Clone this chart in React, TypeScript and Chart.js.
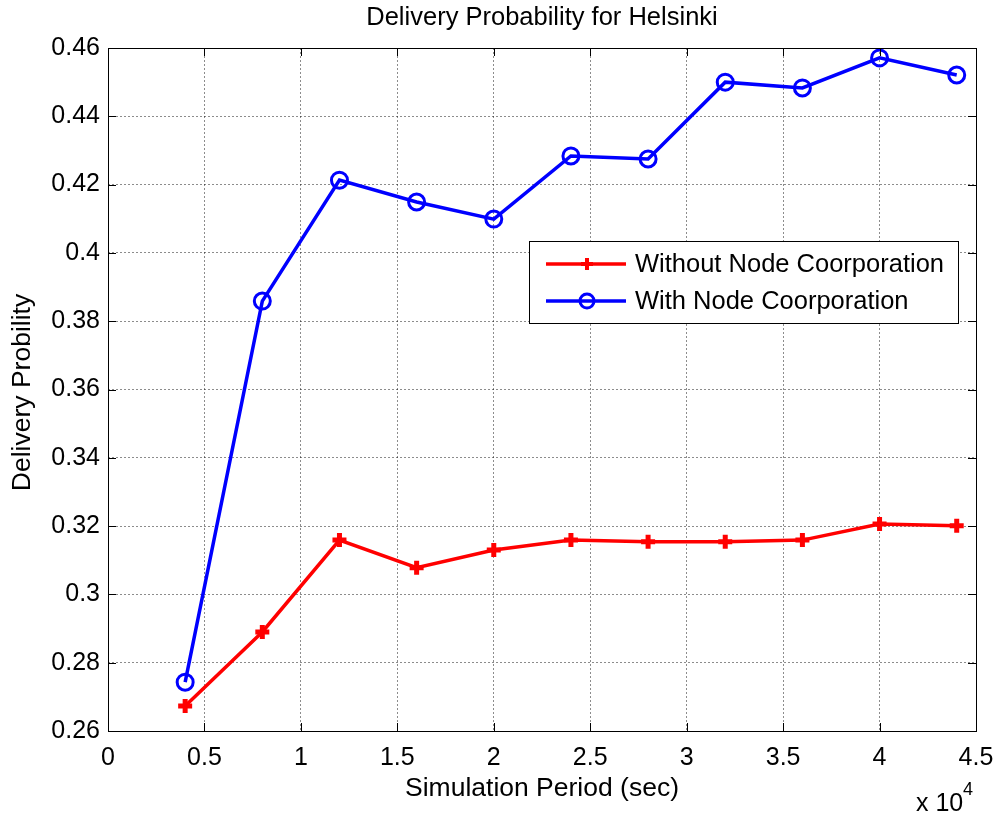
import React, { useEffect, useRef } from "react";
import { Chart, registerables } from "chart.js";

Chart.register(...registerables);

// Simulation period, in units of 10^4 seconds
const periods = [0.4, 0.8, 1.2, 1.6, 2.0, 2.4, 2.8, 3.2, 3.6, 4.0, 4.4];

const withoutCooperation = [0.2673, 0.289, 0.3159, 0.3078, 0.313, 0.3159, 0.3154, 0.3154, 0.3159, 0.3206, 0.3201];
const withCooperation = [0.2743, 0.3859, 0.4213, 0.4149, 0.4099, 0.4284, 0.4275, 0.45, 0.4483, 0.4571, 0.4521];

const xTicks = [0, 0.5, 1, 1.5, 2, 2.5, 3, 3.5, 4, 4.5];
const xTickLabels = ["0", "0.5", "1", "1.5", "2", "2.5", "3", "3.5", "4", "4.5"];
const yTicks = [0.26, 0.28, 0.3, 0.32, 0.34, 0.36, 0.38, 0.4, 0.42, 0.44, 0.46];
const yTickLabels = ["0.26", "0.28", "0.3", "0.32", "0.34", "0.36", "0.38", "0.4", "0.42", "0.44", "0.46"];

const seriesNames = ["Without Node Coorporation", "With Node Coorporation"];
const titleText = "Delivery Probability for Helsinki";
const xTitle = "Simulation Period (sec)";
const yTitle = "Delivery Probility";

const FONT = "'Liberation Sans', Arial, sans-serif";
const RED = "#ff0000";
const BLUE = "#0000ff";

function drawPlus(ctx: CanvasRenderingContext2D, x: number, y: number, r: number, color: string) {
  ctx.save();
  ctx.strokeStyle = color;
  ctx.lineWidth = 4;
  ctx.beginPath();
  ctx.moveTo(x - r, y);
  ctx.lineTo(x + r, y);
  ctx.moveTo(x, y - r);
  ctx.lineTo(x, y + r);
  ctx.stroke();
  ctx.restore();
}

function drawCircle(ctx: CanvasRenderingContext2D, x: number, y: number, r: number, color: string) {
  ctx.save();
  ctx.strokeStyle = color;
  ctx.lineWidth = 3;
  ctx.beginPath();
  ctx.arc(x, y, r, 0, Math.PI * 2);
  ctx.stroke();
  ctx.restore();
}

// Box, inward tick marks, legend and annotation text in a MATLAB-like style
const frame = {
  id: "matlabFrame",
  afterDraw(chart: any) {
    const { ctx, chartArea } = chart;
    const { left, right, top, bottom } = chartArea;
    const xs = chart.scales.x;
    const ys = chart.scales.y;
    ctx.save();

    // Axes box
    ctx.strokeStyle = "#000";
    ctx.lineWidth = 1;
    ctx.strokeRect(left + 0.5, top + 0.5, right - left, bottom - top);

    // Inward ticks on all four sides
    const tl = 8;
    ctx.beginPath();
    for (const v of xTicks) {
      const px = Math.round(xs.getPixelForValue(v)) + 0.5;
      ctx.moveTo(px, bottom);
      ctx.lineTo(px, bottom - tl);
      ctx.moveTo(px, top);
      ctx.lineTo(px, top + tl);
    }
    for (const v of yTicks) {
      const py = Math.round(ys.getPixelForValue(v)) + 0.5;
      ctx.moveTo(left, py);
      ctx.lineTo(left + tl, py);
      ctx.moveTo(right, py);
      ctx.lineTo(right - tl, py);
    }
    ctx.stroke();

    // Title
    ctx.fillStyle = "#000";
    ctx.font = `25.5px ${FONT}`;
    ctx.textAlign = "center";
    ctx.textBaseline = "middle";
    ctx.fillText(titleText, (left + right) / 2, 18);

    // Axis titles
    ctx.font = `26.5px ${FONT}`;
    ctx.fillText(xTitle, (left + right) / 2, 789);
    ctx.save();
    ctx.translate(23, (top + bottom) / 2 + 3);
    ctx.rotate(-Math.PI / 2);
    ctx.fillText(yTitle, 0, 0);
    ctx.restore();

    // Exponent marker for the x axis
    ctx.textAlign = "left";
    ctx.textBaseline = "alphabetic";
    ctx.font = `25px ${FONT}`;
    ctx.fillText("x 10", 916, 811);
    ctx.font = `18px ${FONT}`;
    ctx.fillText("4", 963, 795);

    // Legend
    const lx = 529, ly = 241, lw = 429, lh = 82;
    ctx.fillStyle = "#fff";
    ctx.fillRect(lx, ly, lw, lh);
    ctx.strokeStyle = "#000";
    ctx.lineWidth = 1;
    ctx.strokeRect(lx + 0.5, ly + 0.5, lw, lh);
    const rows = [
      { y: 264, color: RED, kind: "plus" },
      { y: 301, color: BLUE, kind: "circle" },
    ];
    rows.forEach((row, i) => {
      ctx.strokeStyle = row.color;
      ctx.lineWidth = 3.5;
      ctx.beginPath();
      ctx.moveTo(546, row.y);
      ctx.lineTo(626, row.y);
      ctx.stroke();
      if (row.kind === "plus") drawPlus(ctx, 587, row.y, 6, row.color);
      else drawCircle(ctx, 587, row.y, 7, row.color);
      ctx.fillStyle = "#000";
      ctx.font = `25.5px ${FONT}`;
      ctx.textAlign = "left";
      ctx.textBaseline = "middle";
      ctx.fillText(seriesNames[i], 635, row.y + 1);
    });

    ctx.restore();
  },
};

export default function App() {
  const ref = useRef<HTMLCanvasElement | null>(null);

  useEffect(() => {
    if (!ref.current) return;
    const gridStyle = {
      color: "rgba(0,0,0,0.45)",
      lineWidth: 1,
      drawTicks: false,
      tickLength: 0,
    };
    const chart = new Chart(ref.current, {
      type: "line",
      data: {
        datasets: [
          {
            label: seriesNames[0],
            data: periods.map((p, i) => ({ x: p, y: withoutCooperation[i] })),
            borderColor: RED,
            backgroundColor: RED,
            borderWidth: 3.5,
            pointStyle: "cross",
            pointRadius: 7,
            pointBorderWidth: 5,
            pointBorderColor: RED,
            tension: 0,
          },
          {
            label: seriesNames[1],
            data: periods.map((p, i) => ({ x: p, y: withCooperation[i] })),
            borderColor: BLUE,
            backgroundColor: "rgba(0,0,0,0)",
            borderWidth: 3.5,
            pointStyle: "circle",
            pointRadius: 8,
            pointBorderWidth: 3,
            pointBorderColor: BLUE,
            pointBackgroundColor: "rgba(0,0,0,0)",
            tension: 0,
          },
        ],
      },
      options: {
        animation: false,
        responsive: false,
        devicePixelRatio: 1,
        layout: { padding: { top: 48, right: 21, bottom: 0, left: 0 } },
        plugins: {
          legend: { display: false },
          title: { display: false },
          tooltip: { enabled: false },
        },
        scales: {
          x: {
            type: "linear",
            min: 0,
            max: 4.5,
            border: { display: false, dash: [2, 2] },
            grid: gridStyle,
            afterFit: (s: any) => {
              s.height = 87;
              s.paddingLeft = 0;
              s.paddingRight = 0;
            },
            afterBuildTicks: (s: any) => {
              s.ticks = xTicks.map((v) => ({ value: v }));
            },
            ticks: {
              padding: 12,
              color: "#000",
              font: { family: FONT, size: 25 },
              maxRotation: 0,
              autoSkip: false,
              callback: (v: any) => {
                const i = xTicks.findIndex((t) => Math.abs(t - Number(v)) < 1e-9);
                return i >= 0 ? xTickLabels[i] : "";
              },
            },
          },
          y: {
            type: "linear",
            min: 0.26,
            max: 0.46,
            border: { display: false, dash: [2, 2] },
            grid: gridStyle,
            afterFit: (s: any) => {
              s.width = 108;
              s.paddingTop = 0;
              s.paddingBottom = 0;
            },
            afterBuildTicks: (s: any) => {
              s.ticks = yTicks.map((v) => ({ value: v }));
            },
            ticks: {
              padding: 8,
              color: "#000",
              font: { family: FONT, size: 25 },
              autoSkip: false,
              callback: (v: any) => {
                const i = yTicks.findIndex((t) => Math.abs(t - Number(v)) < 1e-9);
                return i >= 0 ? yTickLabels[i] : "";
              },
            },
          },
        },
      },
      plugins: [frame],
    } as any);
    return () => chart.destroy();
  }, []);

  return (
    <div style={{ position: "absolute", left: 0, top: 0, width: 997, height: 818, background: "#fff" }}>
      <canvas ref={ref} width={997} height={818} style={{ display: "block" }} />
    </div>
  );
}
